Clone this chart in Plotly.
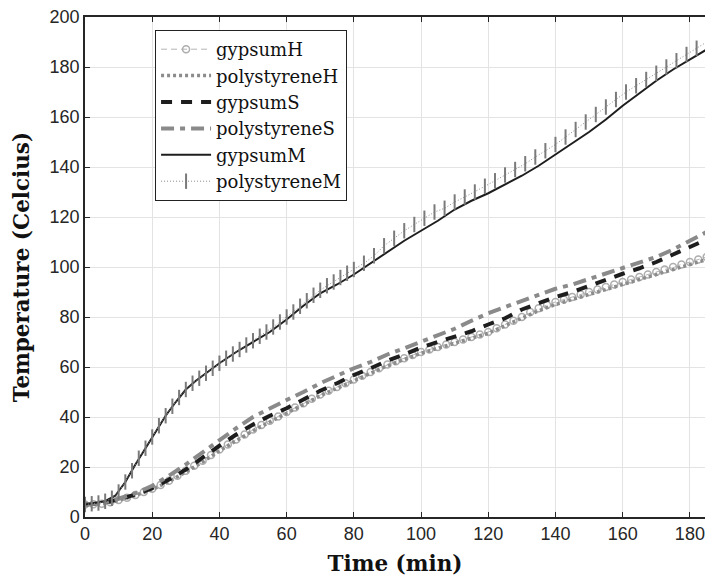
import plotly.graph_objects as go

# ---- data ----
t5 = [0, 5, 10, 15, 20, 25, 30, 35, 40, 45, 50, 55, 60, 65, 70, 75, 80, 85, 90, 95,
      100, 105, 110, 115, 120, 125, 130, 135, 140, 145, 150, 155, 160, 165, 170, 175, 180, 185]

t_gh = [0, 2.5, 5, 7.5, 10, 12.5, 15, 17.5, 20, 22.5, 25, 27.5, 30, 32.5, 35, 37.5, 40, 42.5,
        45, 47.5, 50, 52.5, 55, 57.5, 60, 62.5, 65, 67.5, 70, 72.5, 75, 77.5, 80, 82.5, 85,
        87.5, 90, 92.5, 95, 97.5, 100, 102.5, 105, 107.5, 110, 112.5, 115, 117.5, 120, 122.5,
        125, 127.5, 130, 132.5, 135, 137.5, 140, 142.5, 145, 147.5, 150, 152.5, 155, 157.5,
        160, 162.5, 165, 167.5, 170, 172.5, 175, 177.5, 180, 182.5, 185]
gypsumH = [5.0, 5.1, 5.3, 5.9, 6.8, 7.7, 8.8, 10, 11.3, 12.8, 14.5, 16.5, 18.5, 20.5, 22.5, 24.8,
           27, 29, 31, 33, 35, 36.8, 38.5, 40.2, 42, 43.8, 45.5, 47.3, 49, 50.5, 52, 53.5, 55,
           56.5, 58, 59.5, 61, 62.3, 63.5, 64.8, 66, 67, 68, 69, 70, 71, 72, 73, 74, 75.5, 77,
           78.5, 80, 82, 83.5, 84.8, 86, 87, 88, 89, 90, 91, 92, 93, 94, 95, 96, 97, 98, 99,
           100, 101, 102, 103, 104]

polystyreneH = [5, 5.2, 6.6, 8.6, 11, 14.2, 18, 22, 26.5, 30.5, 34.5, 38, 41.5, 45, 48.5, 51.5,
                54.5, 57.5, 60.5, 63, 65.5, 67.5, 69.5, 71.5, 73.5, 76.5, 79.5, 82.5, 85, 87,
                89, 91, 93, 95, 97, 99, 101, 103]

gypsumS = [5, 5.5, 7, 9, 11.5, 15, 19, 24, 28.5, 33, 37, 40.5, 43.5, 47, 50.5, 53.5, 56.8, 59.5,
           62.5, 65, 67.8, 70, 72, 74.3, 77, 79.5, 83, 85.5, 88, 90, 92.5, 95, 97.3, 99.5, 102,
           105, 108, 111]

polystyreneS = [5, 5.5, 7.3, 9.5, 12.5, 16.5, 21, 26, 31, 35.5, 40, 43.5, 46.8, 50, 53.5, 56.5,
                59.5, 62, 65, 67.5, 70, 72.5, 75.3, 78.5, 81.5, 84, 86.5, 89, 91.3, 93, 95.2,
                97.3, 99.5, 101.5, 104, 107, 110.5, 114]

t_gm = [0, 3, 6, 9, 12, 15, 18, 21, 24, 27, 30, 33, 36, 40, 45, 50, 55, 60, 65, 70, 75, 80, 85,
        90, 95, 100, 105, 110, 115, 120, 125, 130, 135, 140, 145, 150, 155, 160, 165, 170, 175,
        180, 185]
gypsumM = [5, 5.5, 6.3, 8.5, 14, 21, 27.5, 34.5, 40.5, 46, 51, 54.5, 57.5, 61.5, 66, 70, 74, 79,
           84.5, 89.5, 93, 97, 101.5, 106, 110.5, 114.5, 118.5, 123, 126.5, 129.5, 133, 136.5,
           140.5, 145, 149.5, 154, 159, 164.5, 169.5, 174.5, 179, 183, 187]

t_pm = [0, 2, 4, 6, 8, 10, 12, 14, 16, 18, 20, 22, 24, 26, 28, 30, 32, 34, 36, 38, 40, 42, 44,
        46, 48, 50, 52, 54, 56, 58, 60, 62, 64, 66, 68, 70, 72, 74, 76, 78, 80, 83, 86, 89, 92,
        95, 98, 101, 104, 107, 110, 113, 116, 119, 122, 125, 128, 131, 134, 137, 140, 143, 146,
        149, 152, 155, 158, 161, 164, 167, 170, 173, 176, 179, 182, 185]
polystyreneM = [5, 5.3, 5.6, 6.3, 7.5, 10, 14, 18.5, 23.5, 27.5, 32, 36.5, 40.5, 44.3, 47.8, 51,
                53.5, 55.5, 57.5, 59.5, 61.5, 63.5, 65.2, 67, 68.8, 70.5, 72.3, 74, 76, 78, 80,
                82, 84.3, 86.5, 88.7, 90.7, 92.5, 94, 95.8, 97.5, 99, 101.5, 104.5, 108.5, 111.5,
                114.5, 117, 119.5, 122, 123.5, 126, 128, 130, 132.3, 134.5, 136.8, 139, 141.3,
                144, 146.5, 149, 152, 155, 158, 161, 164, 167, 170, 172.5, 175, 177.5, 180,
                182.5, 185, 187.5, 190]

x_ticks = [0, 20, 40, 60, 80, 100, 120, 140, 160, 180]
y_ticks = [0, 20, 40, 60, 80, 100, 120, 140, 160, 180, 200]

fig = go.Figure()

fig.add_trace(go.Scatter(
    x=t_gh, y=gypsumH, name="gypsumH", mode="lines+markers",
    line=dict(color="#b4b4b4", width=1, dash="6px,4px"),
    marker=dict(symbol="circle-open", size=7, color="#adadad", line=dict(width=1.5, color="#adadad"))))
fig.add_trace(go.Scatter(
    x=t5, y=polystyreneH, name="polystyreneH", mode="lines",
    line=dict(color="#8c8c8c", width=3.5, dash="3px,3px")))
fig.add_trace(go.Scatter(
    x=t5, y=gypsumS, name="gypsumS", mode="lines",
    line=dict(color="#1e1e1e", width=4, dash="11px,9px")))
fig.add_trace(go.Scatter(
    x=t5, y=polystyreneS, name="polystyreneS", mode="lines",
    line=dict(color="#8a8a8a", width=4, dash="13px,6px,5px,6px")))
fig.add_trace(go.Scatter(
    x=t_gm, y=gypsumM, name="gypsumM", mode="lines",
    line=dict(color="#1e1e1e", width=2)))
fig.add_trace(go.Scatter(
    x=t_pm, y=polystyreneM, name="polystyreneM", mode="lines+markers",
    line=dict(color="#8a8a8a", width=1, dash="1px,2px"),
    marker=dict(symbol="line-ns-open", size=11, color="#7a7a7a", line=dict(width=2, color="#7a7a7a"))))

axis_font = dict(family="Liberation Sans, Arial, sans-serif", size=18, color="#262626")
title_font = dict(family="DejaVu Serif, Liberation Serif, serif", size=21.5, color="#111111")

# the page body adds an 8 px offset; visible drawing area ends near x=705
fig.update_layout(
    width=697, height=568,
    margin=dict(l=77, r=0, t=9, b=59),
    paper_bgcolor="white", plot_bgcolor="white",
    showlegend=True,
    legend=dict(
        x=0.113, y=0.974, xanchor="left", yanchor="top",
        bgcolor="white", bordercolor="#222222", borderwidth=1,
        font=dict(family="DejaVu Serif, Liberation Serif, serif", size=18, color="#111111"),
        tracegroupgap=0, itemwidth=50,
    ),
    xaxis=dict(
        range=[0, 184.5], tickvals=x_ticks, ticktext=[str(v) for v in x_ticks],
        ticks="inside", ticklen=5, tickcolor="#262626",
        showline=True, linecolor="#262626", linewidth=1.5, mirror="ticks",
        showgrid=True, gridcolor="#e3e3e3", gridwidth=1, zeroline=False,
        tickfont=axis_font, automargin=False, ticklabeloverflow="allow",
        title=dict(text="<b>Time (min)</b>", font=title_font, standoff=13),
    ),
    yaxis=dict(
        range=[0, 200], tickvals=y_ticks, ticktext=[str(v) for v in y_ticks],
        ticks="inside", ticklen=5, tickcolor="#262626",
        showline=True, linecolor="#262626", linewidth=1.5, mirror=False,
        showgrid=True, gridcolor="#e3e3e3", gridwidth=1, zeroline=False,
        tickfont=axis_font, automargin=False, ticklabeloverflow="allow",
        title=dict(text="<b>Temperature (Celcius)</b>", font=title_font, standoff=14),
    ),
)

fig.write_html("out.html")
